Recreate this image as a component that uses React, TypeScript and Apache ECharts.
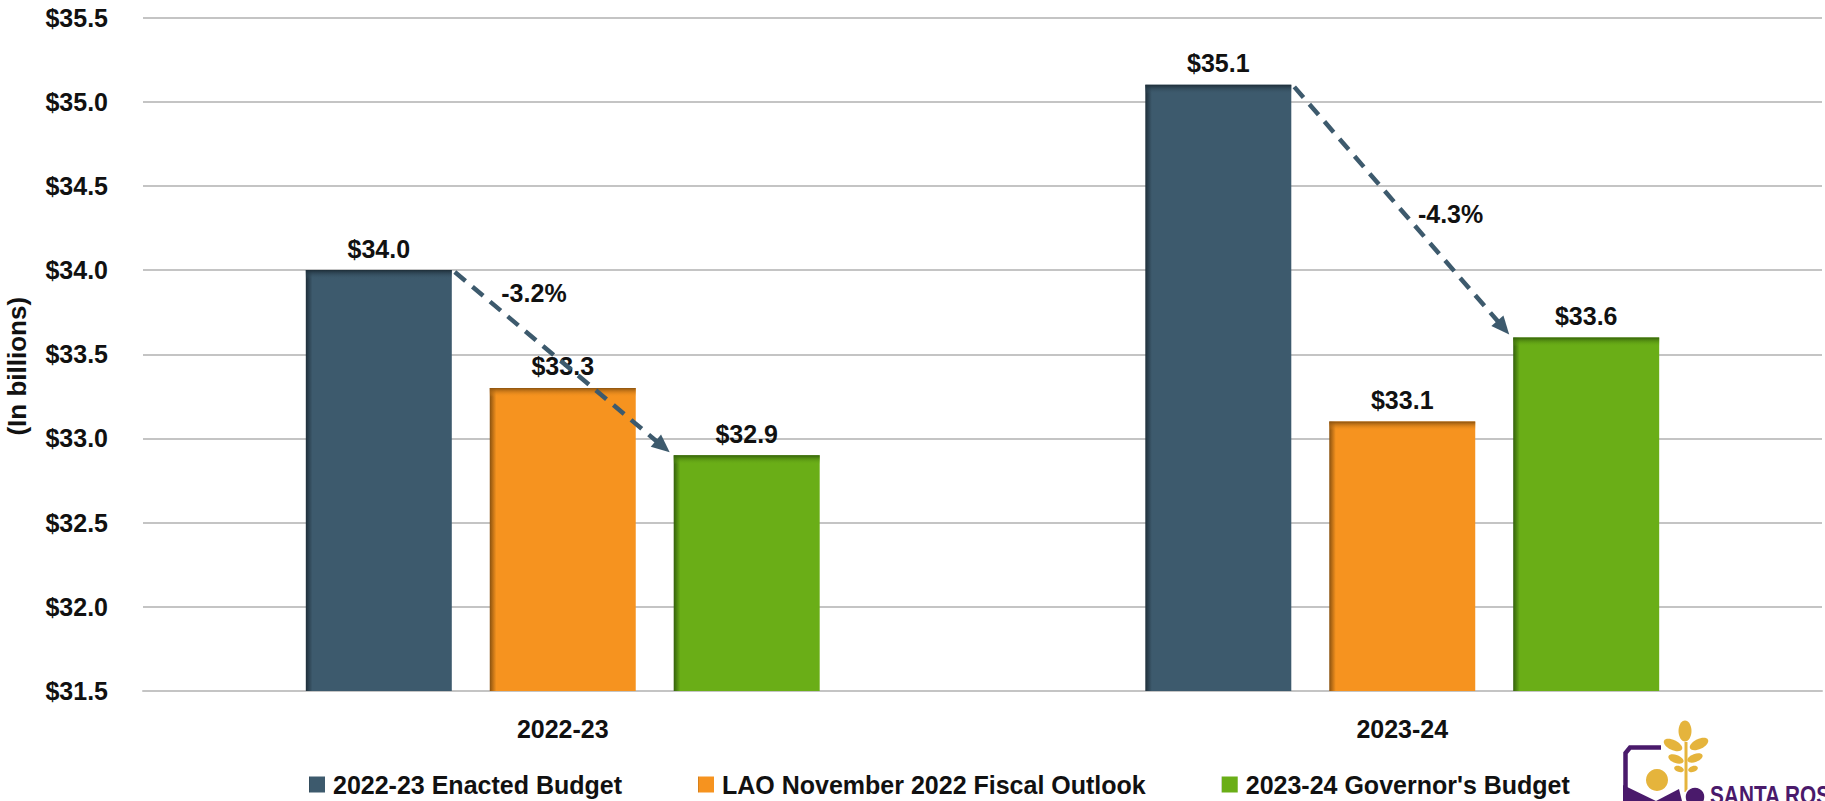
import React, { useEffect, useRef } from 'react';
import * as echarts from 'echarts';

// ---- data ----
const categories = ['2022-23', '2023-24'];
const seriesNames = ['2022-23 Enacted Budget', 'LAO November 2022 Fiscal Outlook', "2023-24 Governor's Budget"];
const enactedBudget = [34.0, 35.1];
const laoOutlook = [33.3, 33.1];
const governorsBudget = [32.9, 33.6];
const yMin = 31.5;
const yMax = 35.5;
const yStep = 0.5;

// ---- style ----
const FONT = '"Liberation Sans", Arial, Helvetica, sans-serif';
const FS = 25;
const BASE = ['#3D5A6D', '#F6931F', '#6AAE17'];
const EDGE = ['#1E2E39', '#8A520F', '#33600A'];
const BAR_FRAC = 0.1739; // bar width as fraction of band
const GAP_FRAC = 0.26; // gap as fraction of bar width
const LABEL_T = [0.27, 0.61];
const LABEL_OFF = 36;

function rgba(hex: string, a: number) {
  const n = parseInt(hex.slice(1), 16);
  return `rgba(${(n >> 16) & 255},${(n >> 8) & 255},${n & 255},${a})`;
}

function barGeom(api: any, cat: number, s: number, v: number) {
  const pt = api.coord([cat, v]);
  const band = api.size([1, 0])[0];
  const bw = band * BAR_FRAC;
  const gap = bw * GAP_FRAC;
  const total = 3 * bw + 2 * gap;
  const x0 = pt[0] - total / 2 + s * (bw + gap);
  return { x0, y: pt[1], bw };
}

export default function App() {
  const ref = useRef<HTMLDivElement>(null);
  useEffect(() => {
    if (!ref.current) return;
    const chart = echarts.init(ref.current, null, { renderer: 'svg' });
    const values = [enactedBudget, laoOutlook, governorsBudget];

    const barSeries = values.map((vals, i) => ({
      type: 'bar',
      name: seriesNames[i],
      data: vals,
      barWidth: (BAR_FRAC * 100).toFixed(2) + '%',
      barGap: GAP_FRAC * 100 + '%',
      itemStyle: {
        color: new echarts.graphic.LinearGradient(0, 0, 1, 0, [
          { offset: 0, color: EDGE[i] },
          { offset: 0.045, color: BASE[i] },
          { offset: 1, color: BASE[i] },
        ]),
      },
      label: {
        show: true,
        position: 'top',
        distance: 9,
        formatter: (p: any) => '$' + Number(p.value).toFixed(1),
        fontSize: FS,
        fontWeight: 'bold',
        color: '#111',
        fontFamily: FONT,
      },
      z: 2,
    }));

    const bevelData: number[][] = [];
    values.forEach((vals, s) => vals.forEach((v, c) => bevelData.push([c, s, v])));

    const arrowData = categories.map((_, i) => [i, enactedBudget[i], governorsBudget[i]]);

    const option: any = {
      animation: false,
      textStyle: { fontFamily: FONT },
      grid: { left: 143, right: 3, top: 17.5, bottom: 110, outerBoundsMode: 'none', containLabel: false },
      legend: {
        data: seriesNames,
        left: 304,
        top: 767,
        icon: 'rect',
        itemWidth: 16,
        itemHeight: 16,
        itemGap: 76,
        textStyle: { fontSize: 25, fontWeight: 'bold', color: '#111', fontFamily: FONT, padding: [0, 0, 0, 3] },
      },
      xAxis: {
        type: 'category',
        data: categories,
        axisLine: { show: true, lineStyle: { color: '#c4c4c4', width: 2 } },
        axisTick: { show: false },
        axisLabel: { fontSize: FS, fontWeight: 'bold', color: '#111', margin: 25, fontFamily: FONT },
      },
      yAxis: {
        type: 'value',
        min: yMin,
        max: yMax,
        interval: yStep,
        name: '(In billions)',
        nameLocation: 'middle',
        nameRotate: 90,
        nameGap: 113,
        nameTextStyle: { fontSize: 26, fontWeight: 'bold', color: '#111', fontFamily: FONT, padding: [0, 24, 0, 0] },
        axisLine: { show: false },
        axisTick: { show: false },
        axisLabel: {
          fontSize: FS,
          fontWeight: 'bold',
          color: '#111',
          margin: 35,
          fontFamily: FONT,
          formatter: (v: number) => '$' + v.toFixed(1),
        },
        splitLine: { lineStyle: { color: '#c4c4c4', width: 2 } },
      },
      series: [
        ...barSeries,
        {
          type: 'custom',
          silent: true,
          z: 3,
          data: bevelData,
          encode: { x: 0, y: 2 },
          renderItem: (params: any, api: any) => {
            const c = api.value(0), s = api.value(1), v = api.value(2);
            const g = barGeom(api, c, s, v);
            return {
              type: 'rect',
              shape: { x: g.x0, y: g.y, width: g.bw, height: 9 },
              style: {
                fill: new echarts.graphic.LinearGradient(0, 0, 0, 1, [
                  { offset: 0, color: EDGE[s] },
                  { offset: 1, color: rgba(BASE[s], 0) },
                ]),
              },
            };
          },
        },
        {
          type: 'custom',
          silent: true,
          z: 5,
          data: arrowData,
          encode: { x: 0, y: 1 },
          renderItem: (params: any, api: any) => {
            const c = api.value(0), from = api.value(1), to = api.value(2);
            const a = barGeom(api, c, 0, from);
            const b = barGeom(api, c, 2, to);
            const x1 = a.x0 + a.bw + 3, y1 = a.y + 2;
            const x2 = b.x0 - 4, y2 = b.y - 3;
            const dx = x2 - x1, dy = y2 - y1;
            const len = Math.sqrt(dx * dx + dy * dy);
            const ux = dx / len, uy = dy / len;
            const nx = uy, ny = -ux; // normal toward upper-right
            const headL = 18, headW = 8;
            const bx = x2 - ux * headL, by = y2 - uy * headL;
            const t = LABEL_T[params.dataIndex] ?? 0.4;
            const lx = x1 + ux * len * t + nx * LABEL_OFF - 2;
            const ly = y1 + uy * len * t + ny * LABEL_OFF;
            const pct = ((to - from) / from) * 100;
            return {
              type: 'group',
              children: [
                {
                  type: 'line',
                  shape: { x1, y1, x2: bx + ux * 2, y2: by + uy * 2 },
                  style: { stroke: BASE[0], lineWidth: 4.5, lineDash: [14, 9] },
                },
                {
                  type: 'polygon',
                  shape: {
                    points: [
                      [x2, y2],
                      [bx + nx * headW, by + ny * headW],
                      [bx - nx * headW, by - ny * headW],
                    ],
                  },
                  style: { fill: BASE[0] },
                },
                {
                  type: 'text',
                  style: {
                    text: pct.toFixed(1) + '%',
                    x: lx,
                    y: ly,
                    align: 'center',
                    verticalAlign: 'middle',
                    fontSize: FS,
                    fontWeight: 'bold',
                    fill: '#111',
                    fontFamily: FONT,
                  },
                },
              ],
            };
          },
        },
      ],
      graphic: [
        {
          type: 'group',
          silent: true,
          children: [
            {
              type: 'polyline',
              shape: { points: [[1625.5, 805], [1625.5, 753], [1630, 747.5], [1661, 747.5]] },
              style: { stroke: '#4A1A6B', lineWidth: 4.5, fill: null },
            },
            { type: 'circle', shape: { cx: 1657, cy: 780, r: 11 }, style: { fill: '#E5B43C' } },
            { type: 'line', shape: { x1: 1686, y1: 742, x2: 1686, y2: 792 }, style: { stroke: '#E5B43C', lineWidth: 3 } },
            { type: 'ellipse', x: 1685, y: 731, shape: { cx: 0, cy: 0, rx: 6.5, ry: 10.5 }, style: { fill: '#E5B43C' } },
            { type: 'ellipse', x: 1673, y: 745, rotation: -0.45, shape: { cx: 0, cy: 0, rx: 10, ry: 5 }, style: { fill: '#E5B43C' } },
            { type: 'ellipse', x: 1699, y: 744, rotation: 0.45, shape: { cx: 0, cy: 0, rx: 10, ry: 5 }, style: { fill: '#E5B43C' } },
            { type: 'ellipse', x: 1676, y: 759, rotation: -0.35, shape: { cx: 0, cy: 0, rx: 8, ry: 4 }, style: { fill: '#E5B43C' } },
            { type: 'ellipse', x: 1695, y: 758, rotation: 0.35, shape: { cx: 0, cy: 0, rx: 8, ry: 4 }, style: { fill: '#E5B43C' } },
            { type: 'ellipse', x: 1679, y: 769, rotation: -0.3, shape: { cx: 0, cy: 0, rx: 5, ry: 3 }, style: { fill: '#E5B43C' } },
            { type: 'ellipse', x: 1693, y: 769, rotation: 0.3, shape: { cx: 0, cy: 0, rx: 5, ry: 3 }, style: { fill: '#E5B43C' } },
            { type: 'polygon', shape: { points: [[1623, 785], [1656, 801], [1623, 801]] }, style: { fill: '#4A1A6B' } },
            { type: 'polygon', shape: { points: [[1656, 801], [1679, 789], [1682, 801]] }, style: { fill: '#4A1A6B' } },
            { type: 'circle', shape: { cx: 1695, cy: 797, r: 10 }, style: { fill: '#4A1A6B', stroke: '#fff', lineWidth: 1.5 } },
            {
              type: 'text',
              x: 1710,
              y: 782,
              scaleX: 0.8,
              style: {
                text: 'SANTA ROSA',
                x: 0,
                y: 0,
                fontSize: 26,
                fontWeight: 'bold',
                fill: '#4A1A6B',
                fontFamily: FONT,
                verticalAlign: 'top',
              },
            },
          ],
        },
      ],
    };
    chart.setOption(option);
    return () => chart.dispose();
  }, []);
  return (
    <div
      ref={ref}
      style={{ position: 'fixed', left: 0, top: 0, width: '1825px', height: '801px', background: '#fff' }}
    />
  );
}
